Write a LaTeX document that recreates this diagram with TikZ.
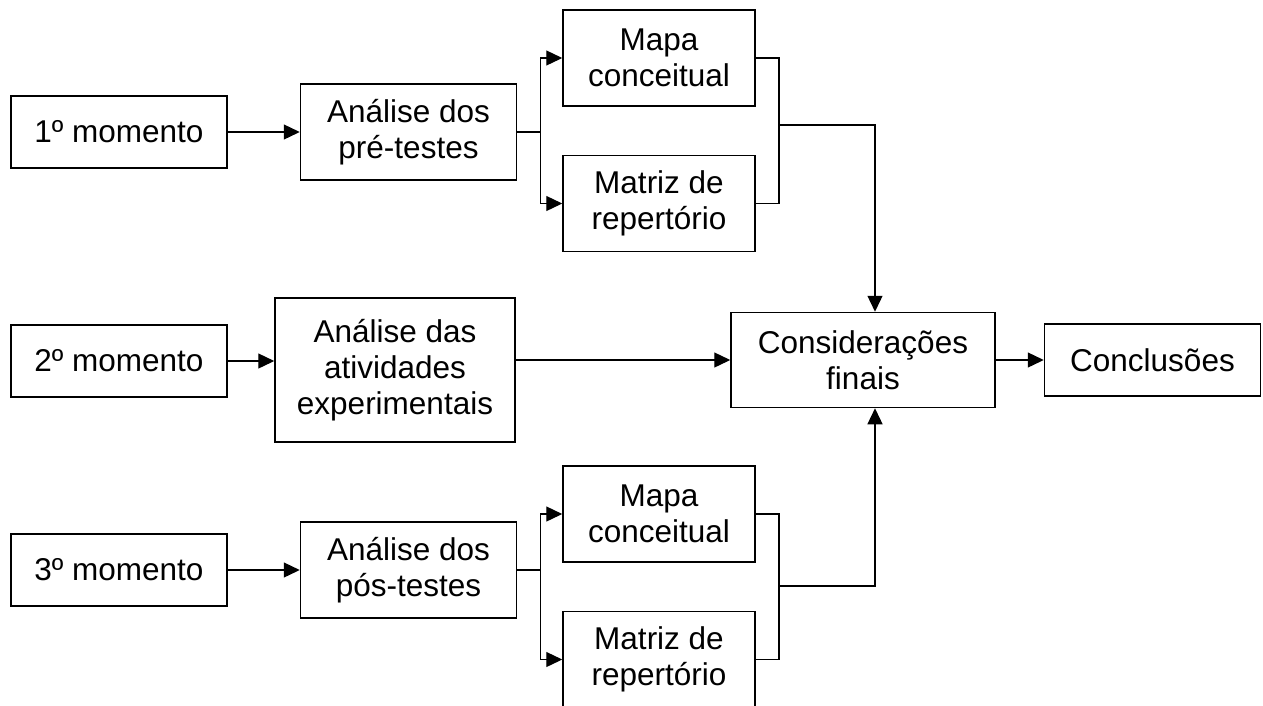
\documentclass[tikz,border=0pt]{standalone}
\usepackage{fontspec}
\setmainfont{Liberation Sans}
\usetikzlibrary{arrows.meta, positioning}
\tikzstyle{caixa} = [rectangle, inner sep=0pt, text centered, align=center, draw=black, line width=1.5pt, font=\fontsize{31.5}{36}\selectfont]
\tikzstyle{momento} = [caixa, minimum width=216pt, minimum height=72pt]
\tikzstyle{analise} = [caixa, minimum width=216pt, minimum height=96pt]
\tikzstyle{produto} = [caixa, minimum width=192pt, minimum height=96pt]
\tikzstyle{linha} = [line width=1.3pt]
\tikzstyle{arrow} = [linha, -{Triangle[length=16pt,width=15pt]}]

\begin{document}
\begin{tikzpicture}[x=1pt, y=-1pt]
\useasboundingbox (0,0) rectangle (1263,705);

% primeiro momento
\node (m1) [momento] at (119,132) {1º momento};
\node (pre) [analise, right=72pt of m1] {Análise dos\\pré-testes};
\node (mapa1) [produto] at (659,58) {Mapa\\conceitual};
\node (matriz1) [produto, below=48pt of mapa1] {Matriz de\\repertório};

% segundo momento
\node (m2) [momento] at (119,361) {2º momento};
\node (ativ) [caixa, minimum width=240pt, minimum height=144pt] at (395,370) {Análise das\\atividades\\experimentais};

\node (cons) [caixa, minimum width=264pt, minimum height=95pt] at (863,360) {Considerações\\finais};
\node (concl) [momento, right=48pt of cons] {Conclusões};

% terceiro momento
\node (m3) [momento] at (119,570) {3º momento};
\node (pos) [analise, right=72pt of m3] {Análise dos\\pós-testes};
\node (mapa2) [produto] at (659,514) {Mapa\\conceitual};
\node (matriz2) [produto, below=48pt of mapa2] {Matriz de\\repertório};

\coordinate [right=23pt of pre] (split1);
\coordinate [right=23pt of pos] (split2);
\coordinate (join1) at (779,125);
\coordinate (join2) at (779,586);

\draw [arrow] (m1) -- (pre);
\draw [linha] (pre) -- (split1);
\draw [arrow] (split1) |- (mapa1);
\draw [arrow] (split1) |- (matriz1);
\draw [linha] (mapa1.east) -| (join1) |- (matriz1.east);
\draw [arrow] (join1) -| ([xshift=12pt]cons.north);

\draw [arrow] (m2) -- (m2 -| ativ.west);
\draw [arrow] (ativ.east |- cons) -- (cons);
\draw [arrow] (cons) -- (concl);

\draw [arrow] (m3) -- (pos);
\draw [linha] (pos) -- (split2);
\draw [arrow] (split2) |- (mapa2);
\draw [arrow] (split2) |- (matriz2);
\draw [linha] (mapa2.east) -| (join2) |- (matriz2.east);
\draw [arrow] (join2) -| ([xshift=12pt]cons.south);

\end{tikzpicture}
\end{document}
